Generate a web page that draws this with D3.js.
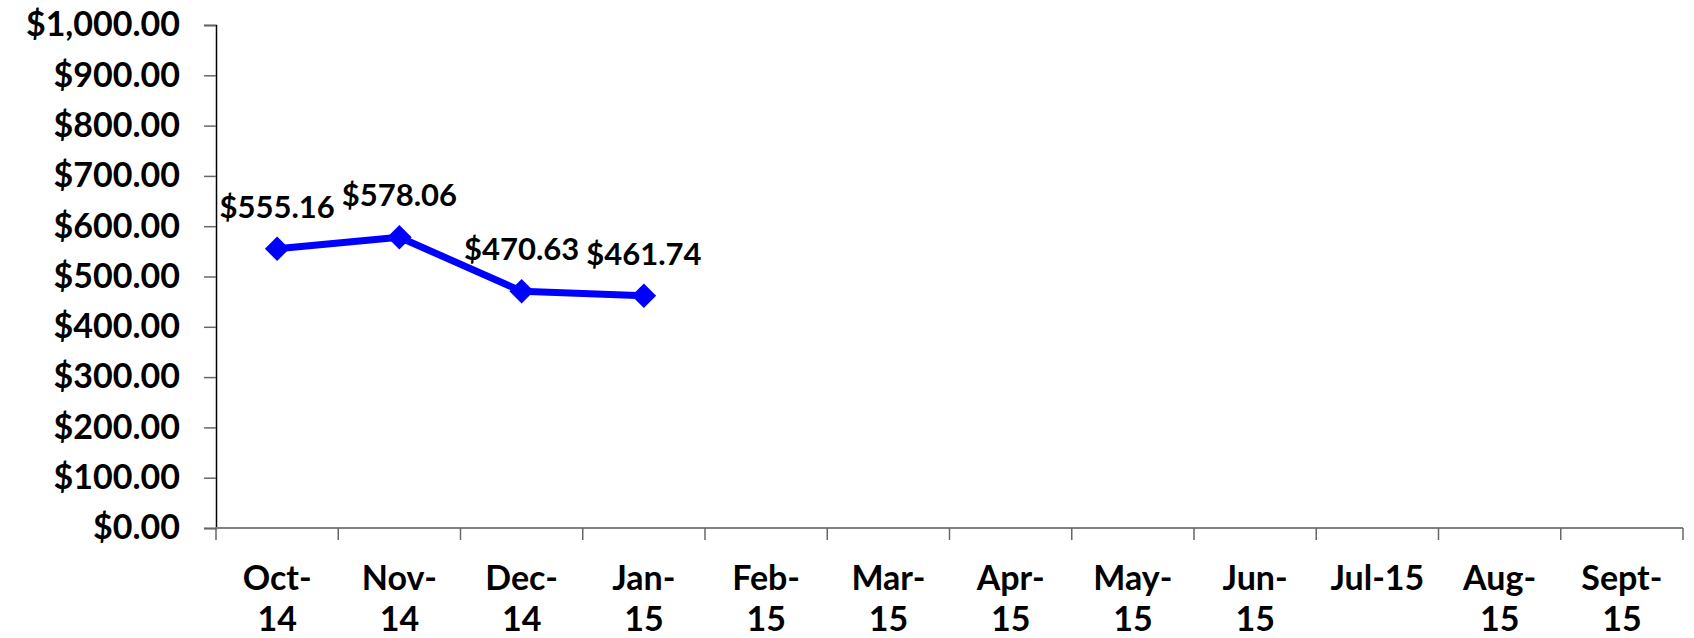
<!DOCTYPE html>
<html>
<head>
<meta charset="utf-8">
<script src="https://cdn.jsdelivr.net/npm/d3@7"></script>
<style>
  body { margin: 0; background: #fff; }
  svg text { font-family: Lato, "Open Sans", sans-serif; font-weight: bold; fill: #000; }
</style>
</head>
<body>
<div id="chart"></div>
<script>
// months on the x axis, and how each label breaks into lines
var months = ["Oct-14", "Nov-14", "Dec-14", "Jan-15", "Feb-15", "Mar-15",
              "Apr-15", "May-15", "Jun-15", "Jul-15", "Aug-15", "Sept-15"];
var monthLines = [["Oct-", "14"], ["Nov-", "14"], ["Dec-", "14"], ["Jan-", "15"],
                  ["Feb-", "15"], ["Mar-", "15"], ["Apr-", "15"], ["May-", "15"],
                  ["Jun-", "15"], ["Jul-15"], ["Aug-", "15"], ["Sept-", "15"]];
// only the first four months have a value
var values = [555.16, 578.06, 470.63, 461.74];
var yTicks = [0, 100, 200, 300, 400, 500, 600, 700, 800, 900, 1000];

var width = 1694, height = 638;
var margin = {top: 25, right: 11, bottom: 110, left: 216};
var w = width - margin.left - margin.right,
    h = height - margin.top - margin.bottom;

var x = d3.scaleBand().domain(months).range([0, w]).padding(0);
var y = d3.scaleLinear().domain([0, 1000]).range([h, 0]);

var money = d3.format("$,.2f");

var svg = d3.select("#chart").append("svg")
    .attr("width", width)
    .attr("height", height);

var g = svg.append("g")
    .attr("transform", "translate(" + margin.left + "," + margin.top + ")");

// y axis
var yAxis = g.append("g")
    .call(d3.axisLeft(y).tickValues(yTicks).tickFormat(money).tickSize(12).tickPadding(24));
yAxis.select(".domain").attr("stroke", "#000").attr("stroke-width", 1.5);
yAxis.selectAll(".tick line").attr("stroke", "#666").attr("stroke-width", 1.5);
yAxis.selectAll(".tick text").style("font-size", "34px").attr("fill", "#000");

// x axis, ticks sit on the band edges
var xAxis = g.append("g").attr("transform", "translate(0," + h + ")");
xAxis.append("line")
    .attr("x1", 0).attr("x2", w)
    .attr("stroke", "#808080").attr("stroke-width", 2);
xAxis.selectAll(".xtick")
    .data(months.concat(["end"]))
  .enter().append("line")
    .attr("class", "xtick")
    .attr("x1", function(d, i) { return i < months.length ? x(d) : w; })
    .attr("x2", function(d, i) { return i < months.length ? x(d) : w; })
    .attr("y1", 0).attr("y2", 12)
    .attr("stroke", "#666").attr("stroke-width", 1.5);

var labels = xAxis.selectAll(".xlabel")
    .data(months)
  .enter().append("text")
    .attr("class", "xlabel")
    .attr("text-anchor", "middle")
    .style("font-size", "34px")
    .attr("transform", function(d) { return "translate(" + (x(d) + x.bandwidth() / 2) + ",0)"; });
labels.selectAll("tspan")
    .data(function(d, i) { return monthLines[i]; })
  .enter().append("tspan")
    .attr("x", 0)
    .attr("y", function(d, i) { return 62 + i * 41; })
    .text(function(d) { return d; });

// line + diamond markers
var pts = values.map(function(v, i) { return {m: months[i], v: v}; });
var cx = function(d) { return x(d.m) + x.bandwidth() / 2; };

g.append("path")
    .datum(pts)
    .attr("fill", "none")
    .attr("stroke", "#0000ff")
    .attr("stroke-width", 7)
    .attr("stroke-linejoin", "round")
    .attr("d", d3.line().x(cx).y(function(d) { return y(d.v); }));

g.selectAll(".marker")
    .data(pts)
  .enter().append("path")
    .attr("class", "marker")
    .attr("fill", "#0000ff")
    .attr("d", d3.symbol().type(d3.symbolSquare).size(300))
    .attr("transform", function(d) { return "translate(" + cx(d) + "," + y(d.v) + ") rotate(45)"; });

g.selectAll(".vlabel")
    .data(pts)
  .enter().append("text")
    .attr("class", "vlabel")
    .attr("text-anchor", "middle")
    .style("font-size", "31px")
    .attr("x", cx)
    .attr("y", function(d) { return y(d.v) - 31; })
    .text(function(d) { return money(d.v); });
</script>
</body>
</html>
